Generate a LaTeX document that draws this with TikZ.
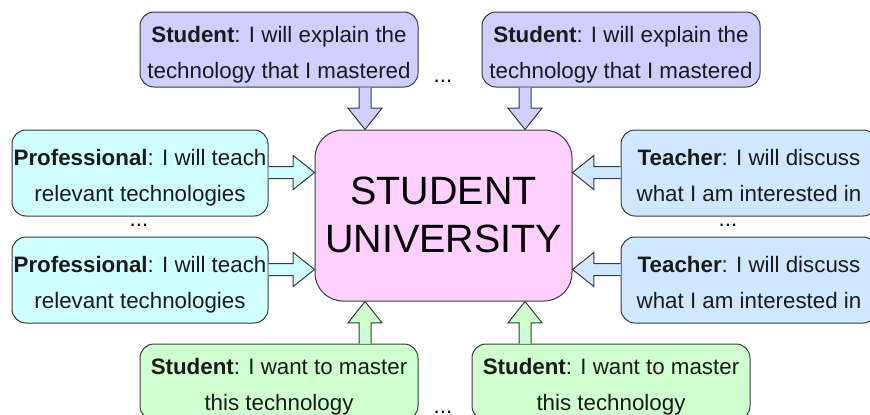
\documentclass[tikz,border=0pt]{standalone}
\usepackage{fontspec}
\setmainfont{Liberation Sans}
\usetikzlibrary{calc}
\definecolor{bluefill}{HTML}{CFCFFF}
\definecolor{cyanfill}{HTML}{CFFFFF}
\definecolor{skyfill}{HTML}{CFE8FF}
\definecolor{greenfill}{HTML}{CFFFCF}
\definecolor{pinkfill}{HTML}{FFCFFF}
\definecolor{edgecol}{HTML}{36393D}
\definecolor{textcol}{HTML}{1A1A1A}
\newcommand{\cardlines}[1]{\raisebox{-2.6pt}[\height][\depth]{\begin{tabular}{@{}c@{}}#1\end{tabular}}}
\tikzset{
  x=0.75pt,y=-0.75pt,
  card/.style={draw=edgecol,line width=0.75pt,rounded corners=10.5pt,inner sep=0pt,
    align=center,text=textcol,font=\fontsize{16.75pt}{27pt}\selectfont},
  hub/.style={card,fill=pinkfill,rounded corners=21pt,text=black,font=\fontsize{29.6pt}{36pt}\selectfont},
  dots/.style={inner sep=0pt,text=black,font=\fontsize{16.75pt}{18pt}\selectfont},
}
% fat open-ended arrow from #1 to #2, filled with #3
\newcommand{\fatarrow}[3]{%
  \coordinate (fb) at ($(#2)!16pt!(#1)$);
  \fill[#3] ($(#1)!4.5pt!90:(#2)$) -- ($(fb)!4.5pt!90:(#2)$) -- ($(fb)!12.75pt!90:(#2)$) -- (#2)
     -- ($(fb)!12.75pt!-90:(#2)$) -- ($(fb)!4.5pt!-90:(#2)$) -- ($(#1)!4.5pt!-90:(#2)$) -- cycle;
  \draw[edgecol,line width=0.75pt,line join=miter]
     ($(#1)!4.5pt!90:(#2)$) -- ($(fb)!4.5pt!90:(#2)$) -- ($(fb)!12.75pt!90:(#2)$) -- (#2)
     -- ($(fb)!12.75pt!-90:(#2)$) -- ($(fb)!4.5pt!-90:(#2)$) -- ($(#1)!4.5pt!-90:(#2)$);
}
\begin{document}
\begin{tikzpicture}
\useasboundingbox (0,0) rectangle (870,414);
\clip (0,0) rectangle (870,414);
\node[hub,minimum width=192.75pt,minimum height=128.25pt] (c) at (443.5,215.5) {\cardlines{STUDENT\\UNIVERSITY}};
\node[card,fill=bluefill,minimum width=208.5pt,minimum height=56.25pt] (s1) at (279,49.5) {\cardlines{\textbf{Student}: I will explain the\\technology that I mastered}};
\node[card,fill=bluefill,minimum width=208.5pt,minimum height=56.25pt] (s2) at (621,49.5) {\cardlines{\textbf{Student}: I will explain the\\technology that I mastered}};
\node[card,fill=cyanfill,minimum width=192pt,minimum height=64.5pt] (p1) at (140,173) {\cardlines{\textbf{Professional}: I will teach\\relevant technologies}};
\node[card,fill=cyanfill,minimum width=192pt,minimum height=64.5pt] (p2) at (140,280) {\cardlines{\textbf{Professional}: I will teach\\relevant technologies}};
\node[card,fill=skyfill,minimum width=192pt,minimum height=64.5pt] (t1) at (749,173) {\cardlines{\textbf{Teacher}: I will discuss\\what I am interested in}};
\node[card,fill=skyfill,minimum width=192pt,minimum height=64.5pt] (t2) at (749,280) {\cardlines{\textbf{Teacher}: I will discuss\\what I am interested in}};
\node[card,fill=greenfill,minimum width=208.5pt,minimum height=57pt] (g1) at (279,382) {\cardlines{\textbf{Student}: I want to master\\this technology}};
\node[card,fill=greenfill,minimum width=208.5pt,minimum height=57pt] (g2) at (611,382) {\cardlines{\textbf{Student}: I want to master\\this technology}};
\node[dots] (d1) at (443,81.5) {...};
\node[dots] (d2) at (139,225) {...};
\node[dots] (d3) at (728,225) {...};
\node[dots] (d4) at (443,412) {...};
\coordinate (ax1) at (365,0);
\coordinate (ax2) at (525,0);
\coordinate (ay1) at (0,172.5);
\coordinate (ay2) at (0,269.5);
\fatarrow{s1.south -| ax1}{c.north -| ax1}{bluefill}
\fatarrow{s2.south -| ax2}{c.north -| ax2}{bluefill}
\fatarrow{p1.east |- ay1}{c.west |- ay1}{cyanfill}
\fatarrow{p2.east |- ay2}{c.west |- ay2}{cyanfill}
\fatarrow{t1.west |- ay1}{c.east |- ay1}{skyfill}
\fatarrow{t2.west |- ay2}{c.east |- ay2}{skyfill}
\fatarrow{g1.north -| ax1}{c.south -| ax1}{greenfill}
\fatarrow{g2.north -| ax2}{c.south -| ax2}{greenfill}
\end{tikzpicture}
\end{document}
